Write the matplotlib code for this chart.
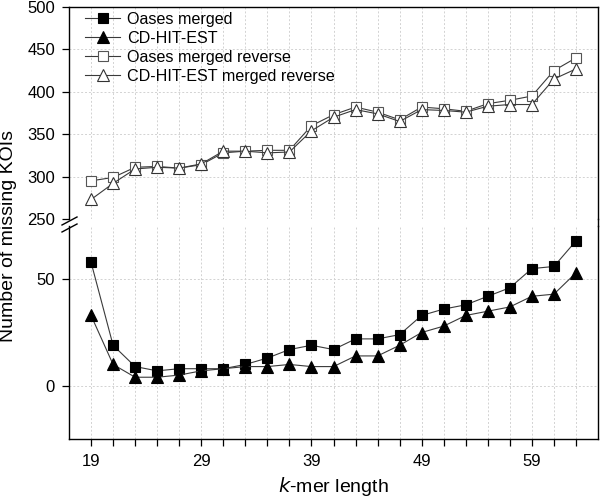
import matplotlib
matplotlib.use('Agg')
import matplotlib.pyplot as plt
from matplotlib.lines import Line2D

plt.rcParams['font.family'] = ['Liberation Sans', 'DejaVu Sans']

# data
kmer = [19, 21, 23, 25, 27, 29, 31, 33, 35, 37, 39, 41, 43, 45, 47, 49, 51, 53, 55, 57, 59, 61, 63]
oases_merged = [58, 19, 9, 7, 8, 8, 8, 10, 13, 17, 19, 17, 22, 22, 24, 33, 36, 38, 42, 46, 55, 56, 68]
cdhit_est = [33, 10, 4, 4, 5, 7, 8, 9, 9, 10, 9, 9, 14, 14, 19, 25, 28, 33, 35, 37, 42, 43, 53]
oases_merged_rev = [295, 299, 311, 312, 310, 314, 328, 330, 331, 331, 360, 373, 382, 376, 367,
                    382, 380, 377, 386, 390, 395, 425, 440]
cdhit_merged_rev = [273, 292, 309, 311, 310, 315, 330, 330, 328, 329, 354, 370, 379, 374, 365,
                    379, 378, 376, 383, 385, 385, 415, 427]

labels = ['Oases merged', 'CD-HIT-EST', 'Oases merged reverse', 'CD-HIT-EST merged reverse']
major_x = [19, 29, 39, 49, 59]
top_ticks = [250, 300, 350, 400, 450, 500]
bot_ticks = [0, 50]

W, H = 600, 501
fig = plt.figure(figsize=(6.0, 5.01), dpi=100)

L, R = 69, 598
top_y0, top_y1 = 7, 219
bot_y0, bot_y1 = 226, 439

def fbox(y0, y1):
    return [L / W, 1 - y1 / H, (R - L) / W, (y1 - y0) / H]

ax_top = fig.add_axes(fbox(top_y0, top_y1))
ax_bot = fig.add_axes(fbox(bot_y0, bot_y1))

line_c = '#3a3a3a'
grid_c = '#d2d2d2'
grid_ls = (0, (2, 2))

for ax in (ax_top, ax_bot):
    ax.set_xlim(17, 65)
    ax.set_xticks(major_x)
    ax.set_xticks([k for k in kmer if k not in major_x], minor=True)
    ax.grid(True, which='both', axis='x', color=grid_c, linestyle=grid_ls, linewidth=0.7)
    ax.set_axisbelow(True)
    ax.tick_params(axis='y', direction='out', length=5, width=0.9, labelsize=12, pad=5)
    ax.tick_params(axis='x', which='both', direction='out', length=5, width=0.9, labelsize=12, pad=6)
    for s in ax.spines.values():
        s.set_linewidth(1.0)

ax_top.set_ylim(250, 500)
ax_top.set_yticks(top_ticks)
for v in [300, 350, 400, 450]:
    ax_top.axhline(v, color=grid_c, linestyle=grid_ls, linewidth=0.7, zorder=0)
ax_top.spines['bottom'].set_visible(False)
ax_top.tick_params(axis='x', which='both', bottom=False, labelbottom=False)

ax_bot.set_ylim(-25, 75)
ax_bot.set_yticks(bot_ticks)
for v in bot_ticks:
    ax_bot.axhline(v, color=grid_c, linestyle=grid_ls, linewidth=0.7, zorder=0)
ax_bot.spines['top'].set_visible(False)

mk = dict(color=line_c, linewidth=0.8, markeredgewidth=0.8)
ax_bot.plot(kmer, oases_merged, marker='s', markersize=6.5, markerfacecolor='black',
            markeredgecolor='black', **mk)
ax_bot.plot(kmer, cdhit_est, marker='^', markersize=8, markerfacecolor='black',
            markeredgecolor='black', **mk)
ax_top.plot(kmer, oases_merged_rev, marker='s', markersize=6.5, markerfacecolor='white',
            markeredgecolor='#555555', **mk)
ax_top.plot(kmer, cdhit_merged_rev, marker='^', markersize=8, markerfacecolor='white',
            markeredgecolor='#333333', **mk)

# axis break marks and continuous right spine
fig.add_artist(Line2D([R / W, R / W], [1 - top_y1 / H, 1 - bot_y0 / H], color='black', linewidth=1.0))
for yc in (221, 228):
    fig.add_artist(Line2D([62 / W, 77 / W], [1 - (yc + 4) / H, 1 - (yc - 4) / H],
                          color='black', linewidth=1.0))

handles = [
    Line2D([], [], marker='s', markersize=6.5, markerfacecolor='black', markeredgecolor='black', **mk),
    Line2D([], [], marker='^', markersize=8, markerfacecolor='black', markeredgecolor='black', **mk),
    Line2D([], [], marker='s', markersize=6.5, markerfacecolor='white', markeredgecolor='#555555', **mk),
    Line2D([], [], marker='^', markersize=8, markerfacecolor='white', markeredgecolor='#333333', **mk),
]
fig.legend(handles, labels, loc='upper left', bbox_to_anchor=(85 / W, 1 - 12 / H),
           frameon=False, fontsize=11.6, handlelength=2.2, handletextpad=0.4,
           labelspacing=0.25, borderpad=0, borderaxespad=0)

fig.text((L + R) / 2 / W, 1 - 487 / H, r'$k$-mer length', ha='center', va='center', fontsize=14)
fig.text(9 / W, 1 - 236 / H, 'Number of missing KOIs', rotation=90, ha='center', va='center',
         fontsize=14)

plt.savefig('out.png', dpi=100)
plt.close()
